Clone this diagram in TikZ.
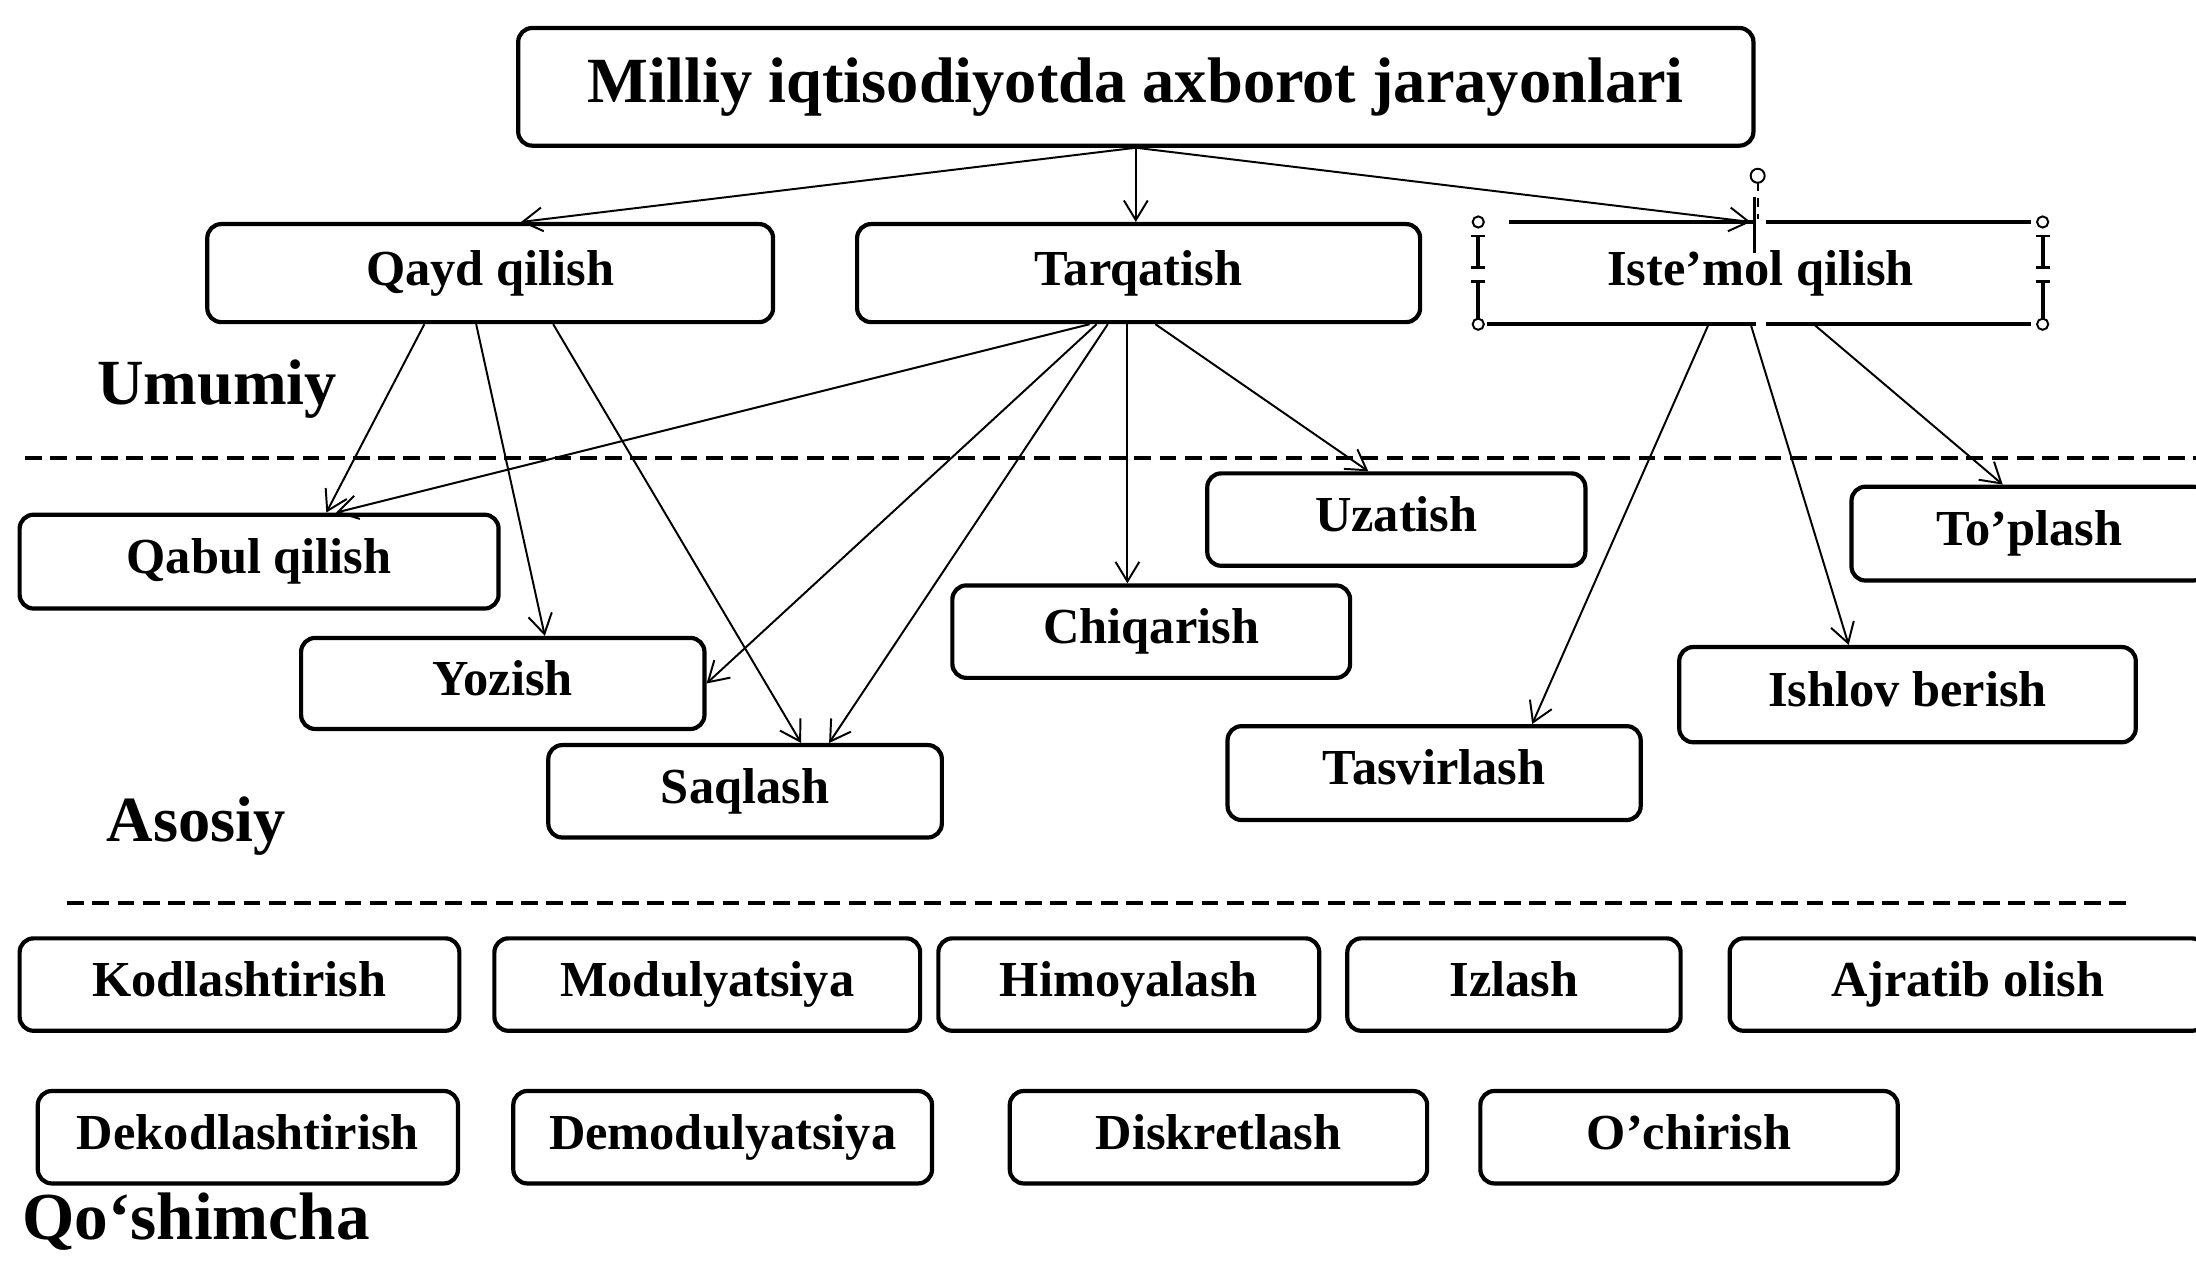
\documentclass[tikz,border=0pt]{standalone}
\usepackage{fontspec}
\setmainfont{Liberation Serif}
\usetikzlibrary{arrows.meta,calc}
\begin{document}
\begin{tikzpicture}[x=1pt,y=-1pt,
  box/.style={draw,line width=3pt,rounded corners=10pt,inner sep=0pt,
    text height=25pt,text depth=8pt,
    font=\fontsize{36}{40}\selectfont\bfseries},
  bx/.style 2 args={box,minimum width=#1,minimum height=#2},
  arr/.style={line width=1.4pt,-{Straight Barb[length=14pt,width=17pt,line width=1.4pt]}},
  lab/.style={font=\fontsize{46}{50}\selectfont\bfseries,inner sep=0pt},
  sep/.style={line width=3pt,dash pattern=on 12pt off 6pt},
  hdl/.style={draw,line width=1.4pt,fill=white,circle,inner sep=0pt,minimum size=8pt},
  edge3/.style={line width=3pt}]
\useasboundingbox (0,0) rectangle (1568,918);
% title
\node[bx={882pt}{84pt},text height=32pt,text depth=10pt,font=\fontsize{46}{50}\selectfont\bfseries] (title) at (811,62) {Milliy iqtisodiyotda axborot jarayonlari};
% level 2
\node[bx={404pt}{70pt}] (qayd) at (350,195) {Qayd qilish};
\node[bx={402pt}{70pt}] (tarq) at (813,195) {Tarqatish};
\node[bx={400pt}{70pt},draw=none] (iste) at (1257,195) {Iste’mol qilish};
% labels
\node[lab] (umumiy) at (155,278) {Umumiy};
\node[lab] (asosiy) at (140,590) {Asosiy};
\node[lab,font=\fontsize{48}{52}\selectfont\bfseries] (qosh) at (140,872) {Qo‘shimcha};
% separators
\coordinate (s1a) at (18,327); \coordinate (s1b) at (1568,327);
\coordinate (s2a) at (48,645); \coordinate (s2b) at (1522,645);
\draw[sep] (s1a) -- (s1b);
\draw[sep] (s2a) -- (s2b);
% level 3
\node[bx={342pt}{67pt}] (qabul) at (185,401) {Qabul qilish};
\node[bx={288pt}{65pt}] (yozish) at (359,488) {Yozish};
\node[bx={281pt}{66pt}] (saqlash) at (532,565) {Saqlash};
\node[bx={284pt}{66pt}] (chiq) at (822,451) {Chiqarish};
\node[bx={270pt}{66pt}] (uzat) at (997,371) {Uzatish};
\node[bx={254pt}{67pt}] (toplash) at (1449,381) {To’plash};
\node[bx={326pt}{68pt}] (ishlov) at (1362,496) {Ishlov berish};
\node[bx={295pt}{67pt}] (tasvir) at (1024,552) {Tasvirlash};
% additional row 1
\node[bx={314pt}{66pt}] (kod) at (171,703) {Kodlashtirish};
\node[bx={304pt}{66pt}] (mod) at (505,703) {Modulyatsiya};
\node[bx={272pt}{66pt}] (him) at (806,703) {Himoyalash};
\node[bx={238pt}{66pt}] (izlash) at (1081,703) {Izlash};
\node[bx={340pt}{66pt}] (ajrat) at (1405,703) {Ajratib olish};
% additional row 2
\node[bx={300pt}{66pt}] (dekod) at (177,812) {Dekodlashtirish};
\node[bx={299pt}{66pt}] (demod) at (516,812) {Demodulyatsiya};
\node[bx={298pt}{66pt}] (disk) at (870,812) {Diskretlash};
\node[bx={298pt}{66pt}] (ochir) at (1206,812) {O’chirish};
% arrows from title
\draw[arr] (title.south) -- ([xshift=22pt]qayd.north);
\draw[arr] (title.south) -- (title.south |- tarq.north);
\draw[arr] (title.south) -- ([xshift=-7pt]iste.north);
% from Qayd qilish
\draw[arr] ([xshift=-47pt]qayd.south) -- ([xshift=48pt]qabul.north);
\draw[arr] ([xshift=-10pt]qayd.south) -- ([xshift=30pt]yozish.north);
\draw[arr] ([xshift=45pt]qayd.south) -- ([xshift=40pt]saqlash.north);
% from Tarqatish
\draw[arr] ([xshift=-35pt]tarq.south) -- ([xshift=55pt]qabul.north);
\draw[arr] ([xshift=-30pt]tarq.south) -- (yozish.east);
\draw[arr] ([xshift=-22pt]tarq.south) -- ([xshift=60pt]saqlash.north);
\draw[arr] ([xshift=-8pt]tarq.south) -- ([xshift=-17pt]chiq.north);
\draw[arr] ([xshift=12pt]tarq.south) -- ([xshift=-20pt]uzat.north);
% from Iste'mol qilish
\draw[arr] ([xshift=-37pt]iste.south) -- ([xshift=70pt]tasvir.north);
\draw[arr] ([xshift=-7pt]iste.south) -- ([xshift=-42pt]ishlov.north);
\draw[arr] ([xshift=38pt]iste.south) -- ([xshift=-19pt]toplash.north);
% selected frame of Iste'mol qilish (edges with gaps and handles)
\draw[edge3] ($(iste.north west)+(22,0)$) -- ($(iste.north)+(-3,0)$);
\draw[edge3] ($(iste.north)+(4,0)$) -- ($(iste.north east)+(-8,0)$);
\draw[edge3] ($(iste.south west)+(6,0)$) -- ($(iste.south)+(-3,0)$);
\draw[edge3] ($(iste.south)+(4,0)$) -- ($(iste.south east)+(-8,0)$);
\foreach \s in {west,east}{
  \draw[edge3] ($(iste.north \s)+(0,10)$) -- ($(iste.\s)+(0,-4)$);
  \draw[line width=2pt] ($(iste.north \s)+(-5,10)$) -- ($(iste.north \s)+(5,10)$);
  \draw[line width=2pt] ($(iste.\s)+(-5,-4)$) -- ($(iste.\s)+(5,-4)$);
  \draw[edge3] ($(iste.\s)+(0,6)$) -- ($(iste.south \s)+(0,-4)$);
  \draw[line width=2pt] ($(iste.\s)+(-5,6)$) -- ($(iste.\s)+(5,6)$);
}
\draw[line width=1.4pt,dash pattern=on 6pt off 5pt] ($(iste.north)+(-2,-28)$) -- ($(iste.north)+(-2,-2)$);
\draw[line width=2pt] ($(iste.north)+(-4,-18)$) -- ($(iste.north)+(-4,22)$);
\node[hdl] (h1) at (iste.north west) {};
\node[hdl] (h2) at (iste.north east) {};
\node[hdl] (h3) at (iste.south west) {};
\node[hdl] (h4) at (iste.south east) {};
\node[hdl,minimum size=10pt] (h5) at ($(iste.north)+(-2,-33)$) {};
\end{tikzpicture}
\end{document}
